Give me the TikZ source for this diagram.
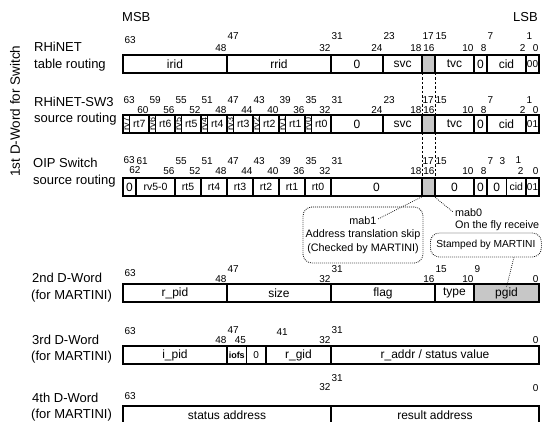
\documentclass[tikz,border=0pt]{standalone}
\usepackage{fontspec}
\usepackage{graphicx}
\setmainfont{Liberation Sans}
\newcounter{lblc}
\newcommand\fs[1]{\fontsize{#1}{#1}\selectfont}
\tikzset{
  declare function={bx(\b)=123+(63-\b)*6.5;},
  fieldbox/.style={draw, line width=1.5pt, minimum height=18pt, inner sep=0pt, outer sep=0pt, font=\fs{12}},
  hatchf/.style={fill=black!22},
  bitlbl/.style={inner sep=0.3pt, font=\fs{10}},
  side/.style={inner sep=0pt, font=\fs{13}, anchor=base west},
  vdash/.style={line width=0.8pt, dash pattern=on 2.5pt off 2pt},
  callout/.style={draw, line width=0.8pt, dash pattern=on 0.8pt off 1.2pt, rounded corners=9pt, inner sep=0pt},
  dotline/.style={line width=0.7pt, dash pattern=on 0.8pt off 1.2pt},
}
% [style] name top hi lo text
\newcommand\fld[6][]{%
  \pgfmathsetmacro\fldx{123+(63-#4)*6.5}%
  \pgfmathsetmacro\fldw{(#4-#5+1)*6.5}%
  \node[fieldbox,minimum width=\fldw pt,anchor=north west,#1] (#2) at (\fldx,#3) {#6};%
}
% upper label at left edge of bit
\newcommand\upl[3]{\stepcounter{lblc}\node[bitlbl,anchor=west] (lb\arabic{lblc}) at ({bx(#1)},#2) {#3};}
% lower label at right edge of bit
\newcommand\lowl[3]{\stepcounter{lblc}\node[bitlbl,anchor=east] (lb\arabic{lblc}) at ({bx(#1)+6.5},#2) {#3};}
% free label
\newcommand\anyl[4][west]{\stepcounter{lblc}\node[bitlbl,anchor=#1] (lb\arabic{lblc}) at (#2,#3) {#4};}

\begin{document}
\begin{tikzpicture}[x=1pt,y=-1pt]
\useasboundingbox (0,0) rectangle (542,422);

% headings
\node[side] (msb) at (122,22) {MSB};
\node[inner sep=0pt, font=\fs{13}, anchor=base east] (lsb) at (538,22) {LSB};
\node[rotate=90, inner sep=0pt, font=\fs{13.5}] (vlab) at (15,111) {1st D-Word for Switch};

% side labels
\node[side] (s1a) at (34,52) {RHiNET};
\node[side] (s1b) at (34,69) {table routing};
\node[side] (s2a) at (34,107) {RHiNET-SW3};
\node[side] (s2b) at (34,123) {source routing};
\node[side] (s3a) at (33,168) {OIP Switch};
\node[side] (s3b) at (33,185) {source routing};
\node[side] (s4a) at (32,283) {2nd D-Word};
\node[side] (s4b) at (31,300) {(for MARTINI)};
\node[side] (s5a) at (32,345) {3rd D-Word};
\node[side] (s5b) at (31,361) {(for MARTINI)};
\node[side] (s6a) at (32,403) {4th D-Word};
\node[side] (s6b) at (31,419) {(for MARTINI)};

% ---------- Row 1: RHiNET table routing ----------
\fld{r1irid}{55}{63}{48}{irid}
\fld{r1rrid}{55}{47}{32}{rrid}
\fld{r1z}{55}{31}{24}{0}
\fld{r1svc}{55}{23}{18}{svc}
\fld[hatchf]{r1sh}{55}{17}{16}{}
\fld{r1tvc}{55}{15}{10}{tvc}
\fld{r1zb}{55}{9}{8}{0}
\fld{r1cid}{55}{7}{2}{cid}
\fld[font=\fs{10}]{r1lo}{55}{1}{0}{00}
\anyl{124}{40.5}{63}
\lowl{48}{48}{48}\upl{47}{36}{47}
\lowl{32}{48}{32}\upl{31}{36}{31}
\lowl{24}{48}{24}\upl{23}{36}{23}
\lowl{18}{48}{18}\upl{17}{36}{17}
\lowl{16}{48}{16}\upl{15}{36}{15}
\lowl{10}{48}{10}
\lowl{8}{48}{8}\upl{7}{36}{7}
\lowl{2}{48}{2}\upl{1}{36}{1}
\lowl{0}{48}{0}

% ---------- Row 2: RHiNET-SW3 source routing ----------
\foreach \k in {7,6,...,0}{
  \pgfmathtruncatemacro\hb{35+4*\k}
  \pgfmathtruncatemacro\hc{\hb-1}
  \pgfmathtruncatemacro\hd{\hb-3}
  \fld[font=\fs{9}]{r2rv\k}{115}{\hb}{\hb}{\rotatebox{90}{rv\k}}
  \fld[font=\fs{10.5}]{r2rt\k}{115}{\hc}{\hd}{rt\k}
  \upl{\hb}{100}{\hb}
  \lowl{\hd}{110}{\hd}
}
\fld{r2z}{115}{31}{24}{0}
\fld{r2svc}{115}{23}{18}{svc}
\fld[hatchf]{r2sh}{115}{17}{16}{}
\fld{r2tvc}{115}{15}{10}{tvc}
\fld{r2zb}{115}{9}{8}{0}
\fld{r2cid}{115}{7}{2}{cid}
\fld[font=\fs{10}]{r2lo}{115}{1}{0}{01}
\upl{31}{100}{31}
\lowl{24}{110}{24}\upl{23}{100}{23}
\lowl{18}{110}{18}\upl{17}{100}{17}
\lowl{16}{110}{16}\upl{15}{100}{15}
\lowl{10}{110}{10}
\lowl{8}{110}{8}\upl{7}{100}{7}
\lowl{2}{110}{2}\upl{1}{100}{1}
\lowl{0}{110}{0}

% ---------- Row 3: OIP Switch source routing ----------
\fld{r3z}{178}{63}{62}{0}
\fld[font=\fs{10.5}]{r3rv}{178}{61}{56}{rv5-0}
\fld[font=\fs{10.5}]{r3rt5}{178}{55}{52}{rt5}
\fld[font=\fs{10.5}]{r3rt4}{178}{51}{48}{rt4}
\fld[font=\fs{10.5}]{r3rt3}{178}{47}{44}{rt3}
\fld[font=\fs{10.5}]{r3rt2}{178}{43}{40}{rt2}
\fld[font=\fs{10.5}]{r3rt1}{178}{39}{36}{rt1}
\fld[font=\fs{10.5}]{r3rt0}{178}{35}{32}{rt0}
\fld{r3zz}{178}{31}{18}{0}
\fld[hatchf]{r3sh}{178}{17}{16}{}
\fld{r3zc}{178}{15}{10}{0}
\fld{r3zd}{178}{9}{8}{0}
\fld{r3ze}{178}{7}{5}{0}
\fld[font=\fs{10.5}]{r3cid}{178}{4}{2}{cid}
\fld[font=\fs{10}]{r3lo}{178}{1}{0}{01}
\anyl{123}{160}{63}
\anyl[east]{141}{170.5}{62}
\upl{61}{161}{61}
\lowl{56}{171}{56}\upl{55}{161}{55}
\lowl{52}{171}{52}\upl{51}{161}{51}
\lowl{48}{171}{48}\upl{47}{161}{47}
\lowl{44}{171}{44}\upl{43}{161}{43}
\lowl{40}{171}{40}\upl{39}{161}{39}
\lowl{36}{171}{36}\upl{35}{161}{35}
\lowl{32}{171}{32}\upl{31}{161}{31}
\lowl{18}{171}{18}\upl{17}{161}{17}
\lowl{16}{171}{16}\upl{15}{161}{15}
\lowl{10}{171}{10}
\lowl{8}{171}{8}\upl{7}{161}{7}
\anyl{499}{161}{3}
\anyl{515}{160}{1}
\anyl[east]{524}{171}{2}
\lowl{0}{171}{0}

% dashed guides through the shaded bits
\draw[vdash] (r1sh.south west) -- (r2sh.north west);
\draw[vdash] (r1sh.south east) -- (r2sh.north east);
\draw[vdash] (r2sh.south west) -- (r3sh.north west);
\draw[vdash] (r2sh.south east) -- (r3sh.north east);

% ---------- callouts ----------
\node[callout, minimum width=120pt, minimum height=56pt, align=center,
      font=\fontsize{10.8}{13.5}\selectfont] (m1) at (363,235)
      {mab1\\Address translation skip\\(Checked by MARTINI)};
\coordinate (m1tip) at (378,219);
\draw[dotline] ([xshift=1.5pt]r3sh.south west) -- (m1tip);

\node[anchor=north west, align=left, inner sep=0pt,
      font=\fontsize{10.8}{12}\selectfont] (m0) at (455,208)
      {mab0\\On the fly receive};
\coordinate (m0tip) at (453,212);
\draw[dotline] ([xshift=-1.5pt]r3sh.south east) -- (m0tip);

\node[callout, anchor=west, minimum height=24pt, minimum width=111pt,
      font=\fs{10.2}] (st) at (430,245) {Stamped by MARTINI};

% ---------- 2nd D-Word ----------
\fld{r4pid}{284}{63}{48}{r\_pid}
\fld{r4size}{284}{47}{32}{size}
\fld{r4flag}{284}{31}{16}{flag}
\fld{r4type}{284}{15}{10}{type}
\fld[hatchf]{r4pg}{284}{9}{0}{pgid}
\anyl{124}{273}{63}
\lowl{48}{279}{48}\upl{47}{269}{47}
\lowl{32}{279}{32}\upl{31}{269}{31}
\lowl{16}{279}{16}\upl{15}{269}{15}
\lowl{10}{279}{10}\upl{9}{269}{9}
\lowl{0}{279}{0}
\draw[dotline] ([xshift=28pt]st.south) -- ([yshift=-3pt]r4pg.north);

% ---------- 3rd D-Word ----------
\fld{r5pid}{346}{63}{48}{i\_pid}
\fld[font=\fs{9}\bfseries]{r5iofs}{346}{47}{45}{iofs}
\fld[font=\fs{10}]{r5z}{346}{44}{42}{0}
\fld{r5gid}{346}{41}{32}{r\_gid}
\fld{r5addr}{346}{31}{0}{r\_addr / status value}
\anyl{124}{331.5}{63}
\lowl{48}{340}{48}\upl{47}{330}{47}
\lowl{45}{340}{45}
\anyl{276}{332}{41}
\lowl{32}{340}{32}\upl{31}{330}{31}
\lowl{0}{340}{0}

% ---------- 4th D-Word ----------
\fld{r6st}{406}{63}{32}{status address}
\fld{r6res}{406}{31}{0}{result address}
\anyl{124}{396.5}{63}
\lowl{32}{387.5}{32}\upl{31}{378.5}{31}
\lowl{0}{388}{0}
\end{tikzpicture}
\end{document}
